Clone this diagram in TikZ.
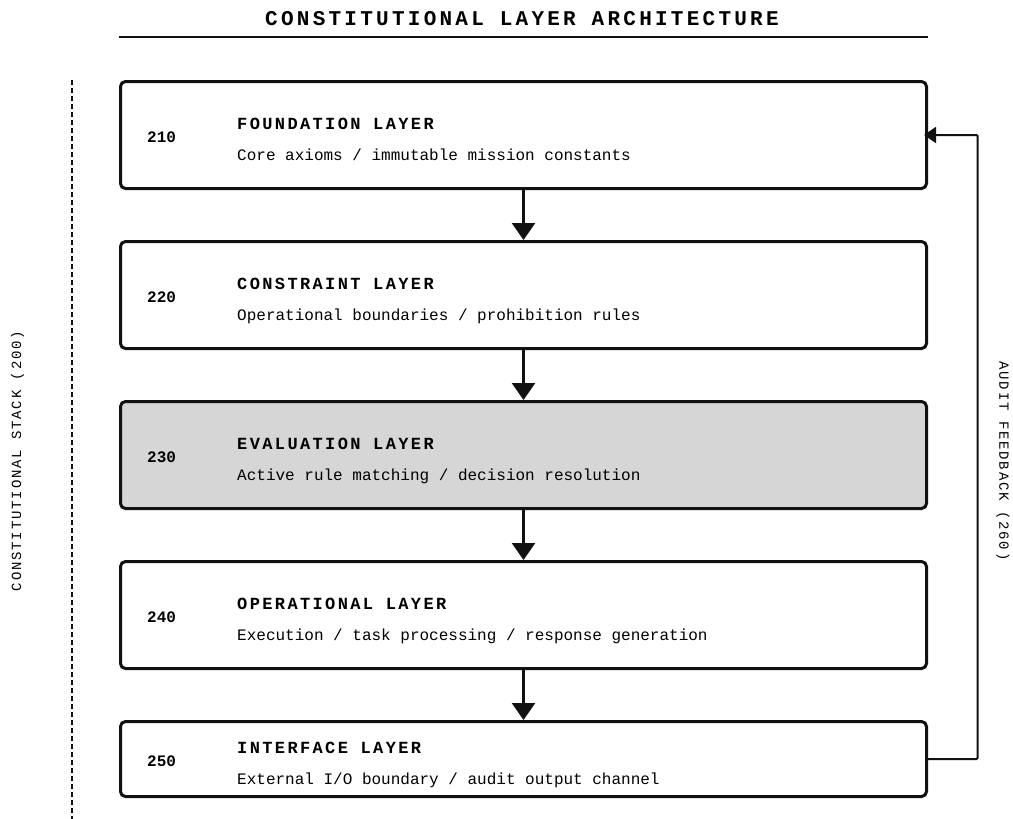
\documentclass[tikz,border=0pt]{standalone}
\usepackage{fontspec}
\setmainfont{Liberation Mono}
\newfontfamily\headfont[LetterSpace=15.5]{Liberation Mono}
\newfontfamily\layerfont[LetterSpace=14]{Liberation Mono}
\newfontfamily\sidefont[LetterSpace=13]{Liberation Mono}
\usetikzlibrary{arrows.meta, positioning, calc}

\definecolor{inkblack}{HTML}{111111}
\definecolor{evalgray}{HTML}{D6D6D6}

\begin{document}
\begin{tikzpicture}[
        x=1pt, y=1pt,
        % Global Styles
        layer/.style={rectangle, draw=inkblack, line width=3pt, rounded corners=5pt, fill=white, minimum width=806pt, minimum height=107pt, inner sep=0pt},
        shortlayer/.style={layer, minimum height=75pt},
        layerno/.style={anchor=base west, inner sep=0pt, font=\bfseries\fontsize{16pt}{16pt}\selectfont},
        layername/.style={anchor=base west, inner sep=0pt, font=\layerfont\bfseries\fontsize{17pt}{17pt}\selectfont},
        layerdesc/.style={anchor=base west, inner sep=0pt, font=\fontsize{16pt}{16pt}\selectfont},
        sidelabel/.style={inner sep=0pt, font=\sidefont\fontsize{14pt}{14pt}\selectfont},
        line/.style={draw=inkblack, line width=2.5pt, -{Triangle[length=17pt, width=23pt]}}, % Stack arrow
        feedback/.style={draw=inkblack, line width=2pt, -{Triangle[length=12pt, width=16pt]}}, % Audit loop
        stackline/.style={draw=inkblack, line width=2pt, dash pattern=on 5pt off 3pt}
    ]

    \useasboundingbox (0,0) rectangle (1013,-819);

    % --- Title ---
    \node [anchor=base, inner sep=0pt, font=\headfont\bfseries\fontsize{21pt}{21pt}\selectfont] (title) at (522,-25) {CONSTITUTIONAL LAYER ARCHITECTURE};

    % --- Layers ---
    \node [layer] (l210) at (523.5,-135) {};
    \node [layer, below=50pt of l210] (l220) {};
    \node [layer, fill=evalgray, below=50pt of l220] (l230) {};
    \node [layer, below=50pt of l230] (l240) {};
    \node [shortlayer, below=50pt of l240] (l250) {};

    \draw [inkblack, line width=2pt] (l210.west |- 0,-37) -- (l210.east |- 0,-37);

    % Layer texts
    \node [layerno] (n210) at ($(l210.west)+(28,-7.5)$) {210};
    \node [layername] (t210) at ($(l210.west)+(118,6)$) {FOUNDATION LAYER};
    \node [layerdesc] (d210) at ($(l210.west)+(118,-25)$) {Core axioms / immutable mission constants};

    \node [layerno] (n220) at ($(l220.west)+(28,-7.5)$) {220};
    \node [layername] (t220) at ($(l220.west)+(118,6)$) {CONSTRAINT LAYER};
    \node [layerdesc] (d220) at ($(l220.west)+(118,-25)$) {Operational boundaries / prohibition rules};

    \node [layerno] (n230) at ($(l230.west)+(28,-7.5)$) {230};
    \node [layername] (t230) at ($(l230.west)+(118,6)$) {EVALUATION LAYER};
    \node [layerdesc] (d230) at ($(l230.west)+(118,-25)$) {Active rule matching / decision resolution};

    \node [layerno] (n240) at ($(l240.west)+(28,-7.5)$) {240};
    \node [layername] (t240) at ($(l240.west)+(118,6)$) {OPERATIONAL LAYER};
    \node [layerdesc] (d240) at ($(l240.west)+(118,-25)$) {Execution / task processing / response generation};

    \node [layerno] (n250) at ($(l250.west)+(28,-7.5)$) {250};
    \node [layername] (t250) at ($(l250.west)+(118,6)$) {INTERFACE LAYER};
    \node [layerdesc] (d250) at ($(l250.west)+(118,-25)$) {External I/O boundary / audit output channel};

    % --- Side labels ---
    \node [sidelabel, rotate=90] (stack) at (17.5,-461) {CONSTITUTIONAL STACK (200)};
    \node [sidelabel, rotate=-90] (audit) at (1003,-461) {AUDIT FEEDBACK (260)};

    \coordinate (stacktop) at (71.5,-80);
    \coordinate (stackbot) at (71.5,-819);
    \draw [stackline] (stacktop) -- (stackbot);

    % --- Paths ---
    \draw [line] (l210) -- (l220);
    \draw [line] (l220) -- (l230);
    \draw [line] (l230) -- (l240);
    \draw [line] (l240) -- (l250);

    % Audit loop back to the top
    \coordinate [right=49.5pt of l250.east] (turn);
    \draw [feedback, rounded corners=1pt, shorten >=-4pt] (l250.east) -- (turn) |- (l210.east);

\end{tikzpicture}
\end{document}
